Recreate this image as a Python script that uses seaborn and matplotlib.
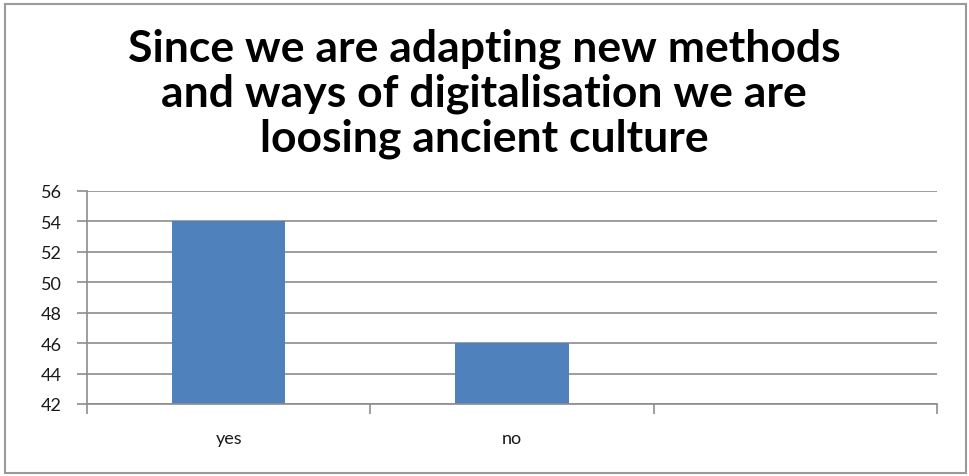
import matplotlib
matplotlib.use("Agg")
import matplotlib.pyplot as plt
import seaborn as sns
import pandas as pd
import numpy as np
from matplotlib.patches import Rectangle

categories = ["yes", "no", ""]
values = [54, 46, np.nan]
y_ticks = [42, 44, 46, 48, 50, 52, 54, 56]
title = "Since we are adapting new methods\nand ways of digitalisation we are\nloosing ancient culture"

sns.set_theme(style="white")
plt.rcParams["font.family"] = ["Lato", "DejaVu Sans"]

df = pd.DataFrame({"cat": categories, "val": values})

fig = plt.figure(figsize=(9.69, 4.77), dpi=100)
ax = fig.add_axes([87/969, 1-405/477, (937-87)/969, (405-192)/477])

sns.barplot(data=df, x="cat", y="val", order=categories, color="#4F81BD",
            saturation=1, width=0.4, ax=ax, edgecolor="none")

ax.set_xlim(-0.5, 2.5)
ax.set_ylim(42, 56)
ax.set_yticks(y_ticks)
ax.yaxis.grid(True, color="#8C8C8C", linewidth=1.2)
ax.set_axisbelow(True)
for s in ["top", "right"]:
    ax.spines[s].set_visible(False)
for s in ["left", "bottom"]:
    ax.spines[s].set_color("#8C8C8C")
    ax.spines[s].set_linewidth(1.2)
ax.set_xlabel("")
ax.set_ylabel("")
ax.tick_params(axis="y", which="major", left=True, length=7, width=1.2, color="#8C8C8C",
               pad=11, labelsize=13, labelcolor="#1a1a1a")
ax.set_xticks([-0.5, 0.5, 1.5, 2.5], minor=True)
ax.tick_params(axis="x", which="minor", bottom=True, length=7, width=1.2, color="#8C8C8C")
ax.tick_params(axis="x", which="major", bottom=False, length=0, pad=19, labelsize=13, labelcolor="#1a1a1a")

fig.text(484/969, 1-94/477, title, ha="center", va="center", fontsize=32,
         fontweight="bold", linespacing=1.13, color="black")

fig.patches.append(Rectangle((5/969, 3/477), 961/969, 469/477, transform=fig.transFigure,
                             fill=False, edgecolor="#9A9A9A", linewidth=1.5))

fig.savefig("out.png", dpi=100)
